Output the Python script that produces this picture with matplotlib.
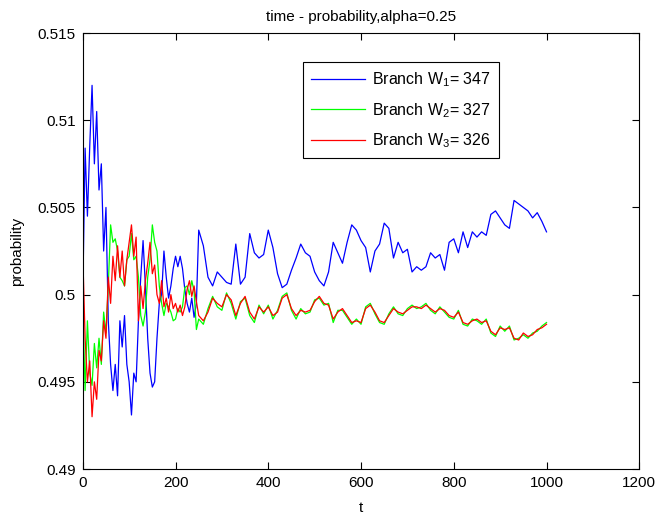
import numpy as np
import matplotlib.pyplot as plt

plt.rcParams['font.family'] = ['Liberation Sans', 'DejaVu Sans']
plt.rcParams['mathtext.default'] = 'regular'

# time axis: every 5 steps up to 245, then every 10 steps
t = np.r_[0:250:5, 250:1001:10]

w1 = [0.5000, 0.5084, 0.5045, 0.5085, 0.5120, 0.5075, 0.5105, 0.5060, 0.5075, 0.5025,
      0.5050, 0.4985, 0.4960, 0.4945, 0.4960, 0.4942, 0.4985, 0.4970, 0.4988, 0.4960,
      0.4950, 0.4931, 0.4955, 0.4950, 0.4985, 0.5010, 0.5031, 0.5005, 0.4975, 0.4955,
      0.4947, 0.4950, 0.4975, 0.4995, 0.5000, 0.5025, 0.5010, 0.4998, 0.5005, 0.5015,
      0.5022, 0.5016, 0.5022, 0.5015, 0.5003, 0.4995, 0.4990, 0.4998, 0.4987, 0.4995,
      0.5037, 0.5028, 0.5010, 0.5005, 0.5013, 0.5010, 0.5007, 0.5006, 0.5029, 0.5006,
      0.5010, 0.5035, 0.5024, 0.5021, 0.5023, 0.5037, 0.5027, 0.5012, 0.5004, 0.5006,
      0.5014, 0.5021, 0.5029, 0.5024, 0.5022, 0.5013, 0.5008, 0.5005, 0.5013, 0.5030,
      0.5024, 0.5018, 0.5030, 0.5040, 0.5037, 0.5031, 0.5027, 0.5013, 0.5025, 0.5029,
      0.5041, 0.5038, 0.5021, 0.5030, 0.5024, 0.5026, 0.5013, 0.5016, 0.5014, 0.5016,
      0.5024, 0.5021, 0.5023, 0.5014, 0.5030, 0.5032, 0.5024, 0.5036, 0.5027, 0.5036,
      0.5033, 0.5036, 0.5034, 0.5046, 0.5048, 0.5044, 0.5040, 0.5038, 0.5054, 0.5052,
      0.5050, 0.5048, 0.5044, 0.5047, 0.5042, 0.5036]

w2 = [0.4995, 0.4945, 0.4985, 0.4955, 0.4948, 0.4972, 0.4958, 0.4975, 0.4960, 0.4990,
      0.4978, 0.5005, 0.5040, 0.5030, 0.5032, 0.5025, 0.5010, 0.5008, 0.5005, 0.5020,
      0.5022, 0.5035, 0.5020, 0.5022, 0.5010, 0.4988, 0.4982, 0.4990, 0.5010, 0.5020,
      0.5040, 0.5030, 0.5025, 0.5005, 0.4995, 0.4988, 0.4995, 0.4993, 0.4990, 0.4985,
      0.4986, 0.4992, 0.4990, 0.4993, 0.5004, 0.5005, 0.5000, 0.5008, 0.5002, 0.4980,
      0.4986, 0.4983, 0.4992, 0.4999, 0.4993, 0.4991, 0.5001, 0.4995, 0.4986, 0.4996,
      0.4998, 0.4988, 0.4984, 0.4994, 0.4989, 0.4994, 0.4986, 0.4991, 0.4999, 0.5001,
      0.4991, 0.4986, 0.4992, 0.4989, 0.4990, 0.4997, 0.4998, 0.4994, 0.4995, 0.4984,
      0.4991, 0.4991, 0.4987, 0.4983, 0.4986, 0.4983, 0.4993, 0.4995, 0.4989, 0.4984,
      0.4983, 0.4989, 0.4993, 0.4989, 0.4988, 0.4992, 0.4994, 0.4992, 0.4993, 0.4995,
      0.4991, 0.4989, 0.4993, 0.4990, 0.4987, 0.4986, 0.4991, 0.4983, 0.4982, 0.4986,
      0.4985, 0.4983, 0.4986, 0.4978, 0.4976, 0.4982, 0.4979, 0.4982, 0.4974, 0.4975,
      0.4977, 0.4975, 0.4978, 0.4979, 0.4982, 0.4984]

w3 = [0.5023, 0.4975, 0.4950, 0.4962, 0.4930, 0.4950, 0.4940, 0.4968, 0.4962, 0.4985,
      0.4975, 0.5010, 0.4995, 0.5022, 0.5008, 0.5028, 0.5010, 0.5025, 0.5005, 0.5020,
      0.5030, 0.5040, 0.5022, 0.5033, 0.4985, 0.5005, 0.4992, 0.5008, 0.5018, 0.5030,
      0.5012, 0.5017, 0.5000, 0.4995, 0.5008, 0.4993, 0.4998, 0.4990, 0.5000, 0.4992,
      0.4995, 0.4990, 0.4994, 0.4988, 0.4993, 0.5003, 0.5008, 0.4999, 0.5005, 0.4996,
      0.4988, 0.4985, 0.4990, 0.4998, 0.4995, 0.4993, 0.5000, 0.4997, 0.4988, 0.4995,
      0.4999, 0.4990, 0.4986, 0.4993, 0.4990, 0.4993, 0.4988, 0.4990, 0.4998, 0.5000,
      0.4992, 0.4988, 0.4991, 0.4990, 0.4991, 0.4996, 0.4999, 0.4995, 0.4994, 0.4986,
      0.4990, 0.4992, 0.4988, 0.4984, 0.4985, 0.4984, 0.4992, 0.4994, 0.4990, 0.4985,
      0.4984, 0.4988, 0.4992, 0.4990, 0.4989, 0.4991, 0.4993, 0.4993, 0.4992, 0.4994,
      0.4992, 0.4990, 0.4992, 0.4991, 0.4988, 0.4987, 0.4990, 0.4984, 0.4983, 0.4985,
      0.4986, 0.4984, 0.4985, 0.4979, 0.4977, 0.4981, 0.4980, 0.4981, 0.4975, 0.4974,
      0.4978, 0.4976, 0.4977, 0.4980, 0.4981, 0.4983]

counts = [347, 327, 326]

fig = plt.figure(figsize=(6.57, 5.16), dpi=100)
ax = fig.add_axes([0.126, 0.091, 0.847, 0.845])

ax.plot(t, w1, color=(0, 0, 1), lw=0.9, label='Branch W$_1$= %d' % counts[0])
ax.plot(t, w2, color=(0, 1, 0), lw=0.9, label='Branch W$_2$= %d' % counts[1])
ax.plot(t, w3, color=(1, 0, 0), lw=0.9, label='Branch W$_3$= %d' % counts[2])

ax.set_xlim(0, 1200)
ax.set_ylim(0.49, 0.515)
ax.set_xticks(np.arange(0, 1201, 200))
ax.set_yticks([0.49, 0.495, 0.5, 0.505, 0.51, 0.515])
ax.set_yticklabels(['0.49', '0.495', '0.5', '0.505', '0.51', '0.515'])
ax.tick_params(direction='in', top=True, right=True, length=5, labelsize=11, pad=5)
ax.set_xlabel('t', fontsize=11, labelpad=8)
ax.set_ylabel('probability', fontsize=11, labelpad=10)
ax.set_title('time - probability,alpha=0.25', fontsize=11, pad=9)

leg = ax.legend(loc='upper left', bbox_to_anchor=(0.396, 0.933), borderaxespad=0,
                fancybox=False, edgecolor='black', framealpha=1, fontsize=11.5,
                handlelength=3.4, handletextpad=0.4, labelspacing=0.75, borderpad=0.5)
leg.get_frame().set_linewidth(0.8)

fig.savefig('out.png', dpi=100)
